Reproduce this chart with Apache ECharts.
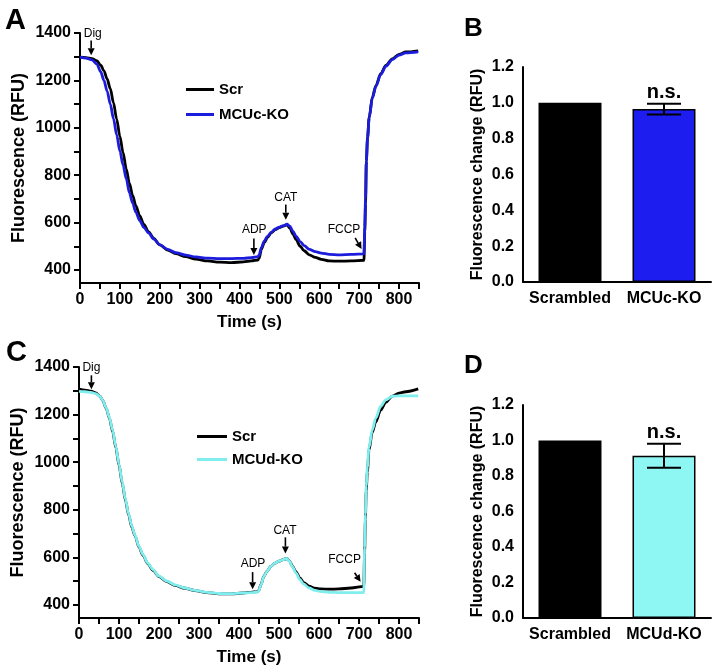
<!DOCTYPE html>
<html><head><meta charset="utf-8">
<script src="https://cdn.jsdelivr.net/npm/echarts@6/dist/echarts.min.js"></script>
<style>html,body{margin:0;padding:0;background:#fff}#c{width:712px;height:672px}</style>
</head><body><div id="c"></div>
<script>
const FONT = "'Liberation Sans',Arial,sans-serif";

// time points (s) shared by the traces
const timeS = [0,15,30,42,52,60,68,76,84,92,100,108,116,124,132,140,150,160,172,185,200,220,240,265,290,320,350,380,410,430,446,449,455,462,470,480,490,500,510,519,526,534,542,552,562,575,590,605,625,650,680,712,714,716,718,721,725,733,742,754,767,783,800,817,848];

// Panel A traces (RFU)
const scrA = [1298,1296,1292,1283,1264,1240,1206,1165,1105,1036,964,895,827,765,715,671,628,592,561,533,506,484,469,456,446,438,433,431,434,438,442,448,488,515,537,557,571,579,585,590,577,551,527,500,481,464,453,445,438,437,438,441,560,680,860,960,1044,1129,1178,1228,1263,1291,1310,1320,1325];
const mcucA = [1298,1294,1287,1270,1236,1200,1155,1100,1038,970,902,842,785,725,682,643,608,580,556,530,507,487,473,463,455,450,448,448,449,452,456,462,495,522,542,560,573,581,587,593,585,563,542,520,503,487,477,471,466,464,466,468,580,700,860,955,1040,1125,1175,1225,1260,1288,1307,1316,1320];

// Panel C traces (RFU)
const scrC = [1307,1303,1298,1291,1278,1258,1226,1185,1130,1062,988,912,840,778,727,690,643,608,573,545,519,498,482,470,460,452,447,446,450,453,456,460,486,520,541,563,576,584,590,595,585,562,540,514,494,479,470,467,466,467,471,478,620,760,880,960,1050,1125,1170,1218,1252,1278,1290,1296,1308];
const mcudC = [1298,1296,1293,1288,1278,1258,1228,1188,1134,1066,992,917,845,782,731,693,646,611,576,548,521,500,484,471,461,453,448,447,450,452,454,458,485,519,541,563,576,584,590,595,584,560,535,507,487,471,461,456,453,452,452,452,640,780,900,980,1062,1135,1185,1235,1262,1277,1279,1279,1279];

// annotations (data coordinates): label, label position, arrow start, arrow tip
const annTextA = ['Dig','ADP','CAT','FCCP'];
const annAtA = [[32,1399],[437,569],[516,706],[662,572]];
const annFromA = [[28,1368],[436,533],[516,676],[690,535]];
const annToA = [[28,1306],[436,463],[516,612],[706,488]];
const annTextC = ['Dig','ADP','CAT','FCCP'];
const annAtC = [[31,1397],[435,575],[515,713],[664,589]];
const annFromC = [[31,1365],[434,538],[516,684],[689,535]];
const annToC = [[31,1306],[434,466],[516,616],[704,497]];

// tick values
const lineYLabels = [400,600,800,1000,1200,1400];
const lineYTicks = [400,500,600,700,800,900,1000,1100,1200,1300,1400];
const lineXLabels = [0,100,200,300,400,500,600,700,800];
const lineXTicks = [0,50,100,150,200,250,300,350,400,450,500,550,600,650,700,750,800,850];

// bar panels
const catsB = ['Scrambled','MCUc-KO'];
const valsB = [1.0, 0.965];
const errB = [0, 0.03];
const catsD = ['Scrambled','MCUd-KO'];
const valsD = [1.0, 0.914];
const errD = [0, 0.068];
const sigLabels = ['', 'n.s.'];

const BLACK = '#000000';
const BLUE_LINE = '#1c1cdc';
const BLUE_BAR = '#1d1df0';
const CYAN_LINE = '#80eeee';
const CYAN_BAR = '#8ef7f4';

const axisLineStyle = {show:true, onZero:false, lineStyle:{color:'#000', width:2}};
const tickStyle = {length:6, lineStyle:{color:'#000', width:2}};
const labelStyle = {color:'#000', fontFamily:FONT, fontWeight:'bold', fontSize:16};

function lineXAxis(grid){
  return {gridIndex:grid, type:'value', min:0, max:850,
    axisLine:axisLineStyle,
    axisTick:Object.assign({customValues:lineXTicks}, tickStyle),
    axisLabel:Object.assign({customValues:lineXLabels, margin:9, formatter:v=>String(v)}, labelStyle),
    splitLine:{show:false},
    name:'Time (s)', nameLocation:'middle', nameGap:31,
    nameTextStyle:{color:'#000', fontFamily:FONT, fontWeight:'bold', fontSize:17}};
}
function lineYAxis(grid){
  return {gridIndex:grid, type:'value', min:345, max:1400,
    axisLine:axisLineStyle,
    axisTick:Object.assign({customValues:lineYTicks}, tickStyle),
    axisLabel:Object.assign({customValues:lineYLabels, margin:9, formatter:v=>String(v)}, labelStyle),
    splitLine:{show:false},
    name:'Fluorescence (RFU)', nameLocation:'middle', nameGap:52,
    nameTextStyle:{color:'#000', fontFamily:FONT, fontWeight:'bold', fontSize:18}};
}
function barXAxis(grid, cats){
  return {gridIndex:grid, type:'category', data:cats,
    axisLine:axisLineStyle,
    axisTick:Object.assign({alignWithLabel:true}, tickStyle),
    axisLabel:Object.assign({margin:9, interval:0}, labelStyle, {fontSize:16}),
    splitLine:{show:false}};
}
function barYAxis(grid){
  return {gridIndex:grid, type:'value', min:0, max:1.2, interval:0.2,
    axisLine:axisLineStyle, axisTick:tickStyle,
    axisLabel:Object.assign({margin:9, formatter:v=>v.toFixed(1)}, labelStyle),
    splitLine:{show:false},
    name:'Fluorescence change (RFU)', nameLocation:'middle', nameGap:37,
    nameTextStyle:{color:'#000', fontFamily:FONT, fontWeight:'bold', fontSize:16}};
}
function trace(name, grid, vals, color){
  return {type:'line', name:name, xAxisIndex:grid, yAxisIndex:grid,
    data:timeS.map((t,i)=>[t, vals[i]]), showSymbol:false, symbol:'none',
    smooth:0.3, smoothMonotone:'x',
    lineStyle:{color:color, width:2.8}, itemStyle:{color:color}};
}
function annSeries(grid, texts, ats, froms, tos){
  return {type:'custom', xAxisIndex:grid, yAxisIndex:grid, silent:true, z:10, clip:false,
    data:texts.map((s,i)=>[ats[i][0], ats[i][1], froms[i][0], froms[i][1], tos[i][0], tos[i][1]]),
    renderItem:function(params, api){
      const i = params.dataIndex;
      const at = api.coord([api.value(0), api.value(1)]);
      const a = api.coord([api.value(2), api.value(3)]);
      const b = api.coord([api.value(4), api.value(5)]);
      const dx = b[0]-a[0], dy = b[1]-a[1], L = Math.hypot(dx,dy);
      const ux = dx/L, uy = dy/L, hl = 7, hw = 3.5;
      const base = [b[0]-ux*hl, b[1]-uy*hl];
      return {type:'group', children:[
        {type:'line', shape:{x1:a[0],y1:a[1],x2:base[0],y2:base[1]}, style:{stroke:'#000', lineWidth:1.6}},
        {type:'polygon', shape:{points:[[b[0],b[1]],[base[0]-uy*hw, base[1]+ux*hw],[base[0]+uy*hw, base[1]-ux*hw]]}, style:{fill:'#000'}},
        {type:'text', x:at[0], y:at[1], style:{text:texts[i], fill:'#000',
          font:'normal 12px '+FONT, textAlign:'center', textVerticalAlign:'middle'}}
      ]};
    }};
}
function barSeries(grid, vals, colors){
  return {type:'bar', xAxisIndex:grid, yAxisIndex:grid, barWidth:'67%',
    data:vals.map((v,i)=>({value:v, itemStyle:{color:colors[i], borderColor:'#000', borderWidth:1.5}}))};
}
function errSeries(grid, vals, errs){
  return {type:'custom', xAxisIndex:grid, yAxisIndex:grid, z:5,
    data:vals.map((v,i)=>[i, v, errs[i]]),
    renderItem:function(params, api){
      const idx = api.value(0), v = api.value(1), e = api.value(2);
      if(!e) return null;
      const hi = api.coord([idx, v+e]), lo = api.coord([idx, v-e]);
      const hw = 17;
      const st = {stroke:'#000', lineWidth:2};
      return {type:'group', children:[
        {type:'line', shape:{x1:hi[0],y1:hi[1],x2:lo[0],y2:lo[1]}, style:st},
        {type:'line', shape:{x1:hi[0]-hw,y1:hi[1],x2:hi[0]+hw,y2:hi[1]}, style:st},
        {type:'line', shape:{x1:lo[0]-hw,y1:lo[1],x2:lo[0]+hw,y2:lo[1]}, style:st},
        {type:'text', x:hi[0], y:hi[1]-1, style:{text:sigLabels[idx], fill:'#000',
          font:'bold 20px '+FONT, textAlign:'center', textVerticalAlign:'bottom'}}
      ]};
    }};
}

const chart = echarts.init(document.getElementById('c'), null, {renderer:'canvas'});
chart.setOption({
  animation:false,
  backgroundColor:'#fff',
  title:[
    {text:'A', left:0, top:1, textStyle:{fontFamily:FONT, fontSize:29, fontWeight:'bold', color:'#000'}},
    {text:'B', left:459, top:11, textStyle:{fontFamily:FONT, fontSize:26, fontWeight:'bold', color:'#000'}},
    {text:'C', left:1, top:333, textStyle:{fontFamily:FONT, fontSize:29, fontWeight:'bold', color:'#000'}},
    {text:'D', left:459, top:348, textStyle:{fontFamily:FONT, fontSize:26, fontWeight:'bold', color:'#000'}}
  ],
  legend:[
    {data:['Scr','MCUc-KO'], left:186, top:82, orient:'vertical', padding:0, itemGap:10,
     itemWidth:28, itemHeight:3, icon:'rect',
     textStyle:{color:'#000', fontFamily:FONT, fontWeight:'bold', fontSize:15}},
    {data:['Scr','MCUd-KO'], left:197, top:429, orient:'vertical', padding:0, itemGap:8,
     itemWidth:30, itemHeight:3, icon:'rect',
     textStyle:{color:'#000', fontFamily:FONT, fontWeight:'bold', fontSize:15}}
  ],
  grid:[
    {left:80, top:33, width:339, height:250},
    {left:523, top:67, width:188, height:215},
    {left:79, top:367, width:340, height:251},
    {left:523, top:405, width:188, height:213}
  ],
  xAxis:[lineXAxis(0), barXAxis(1, catsB), lineXAxis(2), barXAxis(3, catsD)],
  yAxis:[lineYAxis(0), barYAxis(1), lineYAxis(2), barYAxis(3)],
  series:[
    trace('Scr', 0, scrA, BLACK),
    trace('MCUc-KO', 0, mcucA, BLUE_LINE),
    annSeries(0, annTextA, annAtA, annFromA, annToA),
    barSeries(1, valsB, [BLACK, BLUE_BAR]),
    errSeries(1, valsB, errB),
    trace('Scr', 2, scrC, BLACK),
    trace('MCUd-KO', 2, mcudC, CYAN_LINE),
    annSeries(2, annTextC, annAtC, annFromC, annToC),
    barSeries(3, valsD, [BLACK, CYAN_BAR]),
    errSeries(3, valsD, errD)
  ]
});
</script></body></html>
